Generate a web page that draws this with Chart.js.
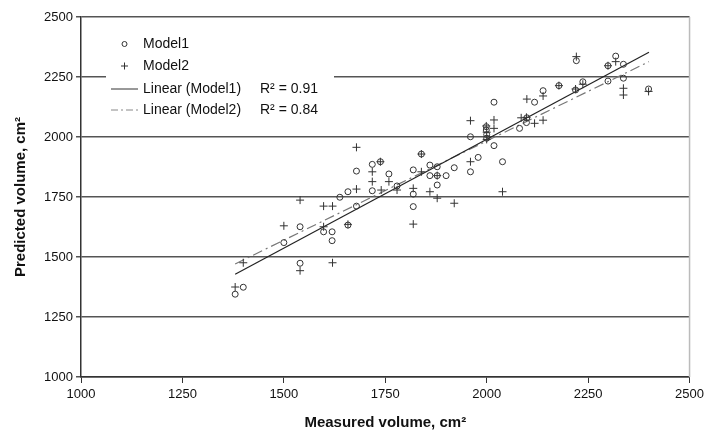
<!DOCTYPE html>
<html>
<head>
<meta charset="utf-8">
<script src="https://cdn.jsdelivr.net/npm/chart.js@4/dist/chart.umd.min.js"></script>
<style>
html,body{margin:0;padding:0;background:#fff;}
#wrap{width:708px;height:436px;}
</style>
</head>
<body>
<div id="wrap"><canvas id="grafik" width="708" height="436"></canvas></div>
<script>
// measured (x) and predicted (y) volumes
const model1X = [1380,1400,1540,1500,1540,1598,1619,1619,1658,1638,1658,1679,1679,1718,1738,1718,1759,1779,1819,1819,1819,1839,1860,1860,1878,1878,1878,1900,1920,1960,1960,1979,1999,1999,2000,2000,2018,2018,2039,2081,2098,2118,2139,2178,2219,2221,2237,2299,2299,2318,2337,2337,2399,2099];
const model1Y = [1345,1374,1474,1560,1626,1605,1605,1568,1633,1749,1772,1712,1858,1886,1897,1776,1846,1796,1863,1762,1710,1929,1883,1839,1876,1839,1800,1839,1872,2001,1855,1915,2043,2029,2010,1995,2145,1964,1897,2036,2060,2145,2193,2214,2196,2318,2230,2297,2233,2337,2303,2245,2200,2080];

const model2X = [1380,1400,1540,1540,1500,1598,1620,1598,1620,1658,1679,1679,1718,1718,1738,1740,1759,1779,1819,1819,1839,1839,1860,1878,1878,1920,1960,1960,1999,2000,2000,2018,2018,2039,2085,2099,2118,2139,2139,2178,2219,2221,2299,2318,2337,2337,2399,2098,2237];
const model2Y = [1375,1476,1443,1737,1630,1626,1476,1712,1712,1636,1957,1783,1855,1814,1897,1779,1814,1779,1786,1637,1929,1855,1772,1839,1745,1724,2068,1897,2046,2020,1990,2071,2036,1772,2080,2158,2057,2070,2171,2214,2200,2335,2297,2314,2203,2175,2190,2082,2220];

// trend line ends
const trendX = [1380, 2400];
const trend1Y = [1428, 2353];
const trend2Y = [1471, 2314];

const legendLabels = ['Model1', 'Model2', 'Linear (Model1)', 'Linear (Model2)'];
const r2Labels = ['R\u00B2 = 0.91', 'R\u00B2 = 0.84'];

const axisMin = 1000;
const axisMax = 2500;
const axisStep = 250;

function pasang(xs, ys){
  return xs.map((x, i) => ({x: x, y: ys[i]}));
}

const FONT = 'Liberation Sans, Arial, sans-serif';
const INK = '#333';

// legend box + right border
const legendPlugin = {
  id: 'legendBox',
  afterDatasetsDraw(chart){
    const ctx = chart.ctx;
    const a = chart.chartArea;
    ctx.save();

    ctx.strokeStyle = '#bbb';
    ctx.lineWidth = 1.5;
    ctx.beginPath();
    ctx.moveTo(a.right, a.top);
    ctx.lineTo(a.right, a.bottom);
    ctx.stroke();

    const bx = a.left + 25, by = a.top + 12;
    ctx.fillStyle = '#fff';
    ctx.fillRect(bx, by, 228, 96);

    const rows = [a.top + 27, a.top + 49, a.top + 72, a.top + 93];
    const sx = a.left + 30, ex = a.left + 57, tx = a.left + 62;

    ctx.strokeStyle = INK;
    ctx.lineWidth = 1;
    Chart.helpers.drawPoint(ctx, {pointStyle: 'circle', radius: 2.5, borderWidth: 1}, (sx + ex) / 2, rows[0]);
    Chart.helpers.drawPoint(ctx, {pointStyle: 'cross', radius: 3.5, borderWidth: 1}, (sx + ex) / 2, rows[1]);

    ctx.beginPath();
    ctx.moveTo(sx, rows[2]);
    ctx.lineTo(ex, rows[2]);
    ctx.stroke();

    ctx.strokeStyle = '#888';
    ctx.setLineDash([7, 3, 2, 3]);
    ctx.beginPath();
    ctx.moveTo(sx, rows[3]);
    ctx.lineTo(ex, rows[3]);
    ctx.stroke();
    ctx.setLineDash([]);

    ctx.fillStyle = '#111';
    ctx.font = '14px ' + FONT;
    ctx.textBaseline = 'middle';
    ctx.textAlign = 'left';
    legendLabels.forEach((t, i) => ctx.fillText(t, tx, rows[i]));
    ctx.fillText(r2Labels[0], a.left + 179, rows[2]);
    ctx.fillText(r2Labels[1], a.left + 179, rows[3]);

    ctx.restore();
  }
};

let chart = new Chart(document.getElementById('grafik'), {
  type: 'scatter',
  data: {
    datasets: [
      {
        label: legendLabels[0],
        data: pasang(model1X, model1Y),
        pointStyle: 'circle',
        pointRadius: 3,
        borderColor: INK,
        backgroundColor: 'rgba(0,0,0,0)',
        borderWidth: 1
      },
      {
        label: legendLabels[1],
        data: pasang(model2X, model2Y),
        pointStyle: 'cross',
        pointRadius: 4,
        borderColor: INK,
        borderWidth: 1
      },
      {
        label: legendLabels[2],
        data: pasang(trendX, trend1Y),
        showLine: true,
        pointRadius: 0,
        borderColor: '#222',
        borderWidth: 1.2
      },
      {
        label: legendLabels[3],
        data: pasang(trendX, trend2Y),
        showLine: true,
        pointRadius: 0,
        borderColor: '#777',
        borderWidth: 1.2,
        borderDash: [10, 4, 2, 4]
      }
    ]
  },
  options: {
    responsive: false,
    animation: false,
    devicePixelRatio: 1,
    layout: {padding: {top: 17, right: 18, left: 0, bottom: 0}},
    plugins: {legend: {display: false}, tooltip: {enabled: false}},
    scales: {
      x: {
        min: axisMin, max: axisMax,
        afterFit(s){ s.height = 59; },
        ticks: {stepSize: axisStep, color: '#111', font: {family: FONT, size: 13}, padding: 4, maxRotation: 0, callback: v => String(v)},
        grid: {display: true, drawOnChartArea: false, tickLength: 6, color: INK},
        border: {color: INK, width: 1.5},
        title: {display: true, text: 'Measured volume, cm\u00B2', color: '#111', font: {family: FONT, size: 15, weight: 'bold'}, padding: {top: 0, bottom: 4}}
      },
      y: {
        min: axisMin, max: axisMax,
        afterFit(s){ s.width = 81; },
        ticks: {stepSize: axisStep, color: '#111', font: {family: FONT, size: 13}, padding: 3, callback: v => String(v)},
        grid: {color: '#555', lineWidth: 1.5, tickLength: 5},
        border: {color: INK, width: 1.5},
        title: {display: true, text: 'Predicted volume, cm\u00B2', color: '#111', font: {family: FONT, size: 15, weight: 'bold'}, padding: {top: 12, bottom: 0}}
      }
    }
  },
  plugins: [legendPlugin]
});
</script>
</body>
</html>
